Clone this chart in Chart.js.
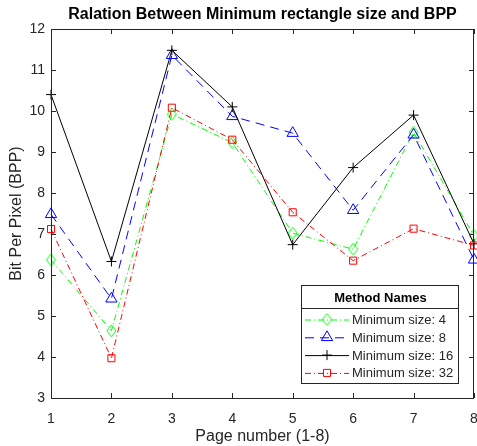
<!DOCTYPE html>
<html>
<head>
<meta charset="utf-8">
<script src="https://cdn.jsdelivr.net/npm/chart.js@4"></script>
<style>
  html, body { margin: 0; padding: 0; background: #fff; }
  #wrap { width: 477px; height: 446px; }
</style>
</head>
<body>
<div id="wrap"><canvas id="bpp-chart" width="477" height="446"></canvas></div>
<script>
    // page numbers on the x axis
    const pages = ["1", "2", "3", "4", "5", "6", "7", "8"];

    // bits per pixel for each minimum rectangle size
    const size4 = [6.37, 4.64, 9.92, 9.23, 7.02, 6.63, 9.48, 6.96];
    const size8 = [7.48, 5.42, 11.36, 9.87, 9.46, 7.58, 9.42, 6.37];
    const size16 = [10.4, 6.33, 11.48, 10.1, 6.74, 8.62, 9.9, 6.76];
    const size32 = [7.12, 3.97, 10.08, 9.3, 7.53, 6.35, 7.13, 6.72];

    const seriesNames = ["Minimum size: 4", "Minimum size: 8", "Minimum size: 16", "Minimum size: 32"];
    const yTicks = [3, 4, 5, 6, 7, 8, 9, 10, 11, 12];
    const titleText = "Ralation Between Minimum rectangle size and BPP";

    const FONT = "'Liberation Sans', Arial, sans-serif";
    const AXIS = "#262626";

    // matlab diamonds are a bit taller than wide, so build a small image for it
    function diamondImage(color) {
        const c = document.createElement("canvas");
        c.width = 11;
        c.height = 14;
        const g = c.getContext("2d");
        g.strokeStyle = color;
        g.lineWidth = 1;
        g.beginPath();
        g.moveTo(5.5, 1);
        g.lineTo(10, 7);
        g.lineTo(5.5, 13);
        g.lineTo(1, 7);
        g.closePath();
        g.stroke();
        return c;
    }

    // title centred over the plot area (not the whole canvas)
    const titlePlugin = {
        id: "plotTitle",
        afterDraw(chart) {
            const { ctx, chartArea: a } = chart;
            ctx.save();
            ctx.fillStyle = "#000";
            ctx.font = "bold 16px " + FONT;
            ctx.textAlign = "center";
            ctx.textBaseline = "middle";
            ctx.fillText(titleText, (a.left + a.right) / 2, 15);
            ctx.restore();
        },
    };

    // matlab style box with inward ticks on all four sides
    const boxPlugin = {
        id: "box",
        afterDraw(chart) {
            const { ctx, chartArea: a, scales } = chart;
            const len = 5;
            ctx.save();
            ctx.strokeStyle = AXIS;
            ctx.lineWidth = 1;
            ctx.beginPath();
            ctx.rect(a.left + 0.5, a.top + 0.5, a.right - a.left - 1, a.bottom - a.top);
            pages.forEach((p, i) => {
                const x = Math.round(scales.x.getPixelForValue(i)) + 0.5;
                ctx.moveTo(x, a.bottom);
                ctx.lineTo(x, a.bottom - len);
                ctx.moveTo(x, a.top);
                ctx.lineTo(x, a.top + len);
            });
            yTicks.forEach((v) => {
                const y = Math.round(scales.y.getPixelForValue(v)) + 0.5;
                ctx.moveTo(a.left, y);
                ctx.lineTo(a.left + len, y);
                ctx.moveTo(a.right, y);
                ctx.lineTo(a.right - len, y);
            });
            ctx.stroke();
            ctx.restore();
        },
    };

    function drawMarker(ctx, style, x, y, r) {
        if (style instanceof HTMLCanvasElement) {
            ctx.drawImage(style, x - style.width / 2, y - style.height / 2);
            return;
        }
        ctx.beginPath();
        if (style === "triangle") {
            ctx.moveTo(x, y - r);
            ctx.lineTo(x + r * 0.866, y + r * 0.5);
            ctx.lineTo(x - r * 0.866, y + r * 0.5);
            ctx.closePath();
        } else if (style === "cross") {
            ctx.moveTo(x - r, y);
            ctx.lineTo(x + r, y);
            ctx.moveTo(x, y - r);
            ctx.lineTo(x, y + r);
        } else {
            const s = r * Math.SQRT1_2;
            ctx.rect(x - s, y - s, 2 * s, 2 * s);
        }
        ctx.stroke();
    }

    // legend box with a header, drawn in the lower right of the plot
    const legendPlugin = {
        id: "methodLegend",
        afterDraw(chart) {
            const { ctx, chartArea: a } = chart;
            const w = 157, h = 98;
            const x0 = a.right - 16 - w;
            const y0 = a.bottom - 15 - h;
            ctx.save();
            ctx.fillStyle = "#fff";
            ctx.fillRect(x0, y0, w, h);
            ctx.strokeStyle = AXIS;
            ctx.lineWidth = 1;
            ctx.strokeRect(x0 + 0.5, y0 + 0.5, w, h);
            ctx.beginPath();
            ctx.moveTo(x0, y0 + 23.5);
            ctx.lineTo(x0 + w, y0 + 23.5);
            ctx.stroke();

            ctx.fillStyle = "#000";
            ctx.font = "bold 13px " + FONT;
            ctx.textAlign = "center";
            ctx.textBaseline = "middle";
            ctx.fillText("Method Names", x0 + w / 2 + 1, y0 + 13);

            ctx.font = "13px " + FONT;
            ctx.textAlign = "left";
            chart.data.datasets.forEach((ds, i) => {
                const y = y0 + 34.5 + i * 17.8;
                ctx.strokeStyle = ds.borderColor;
                ctx.lineWidth = 1;
                ctx.setLineDash(ds.borderDash || []);
                ctx.beginPath();
                ctx.moveTo(x0 + 4, y + 0.5);
                ctx.lineTo(x0 + 48, y + 0.5);
                ctx.stroke();
                ctx.setLineDash([]);
                drawMarker(ctx, ds.pointStyle, x0 + 26, y, ds.pointRadius);
                ctx.fillStyle = AXIS;
                ctx.fillText(ds.label, x0 + 51, y + 1);
            });
            ctx.restore();
        },
    };

    function makeSet(label, data, color, dash, style, radius, order) {
        return {
            label: label,
            data: data,
            borderColor: color,
            backgroundColor: "rgba(0,0,0,0)",
            borderWidth: 1,
            borderDash: dash,
            pointStyle: style,
            pointRadius: radius,
            pointBorderColor: color,
            pointBackgroundColor: "rgba(0,0,0,0)",
            pointBorderWidth: 1,
            tension: 0,
            clip: false,
            order: order,
        };
    }

    const context = document.getElementById("bpp-chart");

    const chartData = {
        labels: pages,
        datasets: [
            makeSet(seriesNames[0], size4, "#00ff00", [6, 3, 1, 3], diamondImage("#00ff00"), 6, 3),
            makeSet(seriesNames[1], size8, "#0000ff", [9, 6], "triangle", 6.5, 2),
            makeSet(seriesNames[2], size16, "#000000", [], "cross", 5, 1),
            makeSet(seriesNames[3], size32, "#ff0000", [6, 3, 1, 3], "rect", 5, 0),
        ],
    };

    const config = {
        type: "line",
        data: chartData,
        options: {
            responsive: false,
            animation: false,
            events: [],
            layout: { autoPadding: false, padding: { left: 0, right: 3, top: 29, bottom: 0 } },
            plugins: {
                legend: { display: false },
                tooltip: { enabled: false },
                title: { display: false },
            },
            scales: {
                x: {
                    type: "category",
                    offset: false,
                    grid: { display: false, drawTicks: false },
                    border: { display: false },
                    ticks: {
                        color: AXIS,
                        font: { family: FONT, size: 14 },
                        padding: 13,
                        maxRotation: 0,
                        autoSkip: false,
                    },
                    title: {
                        display: true,
                        text: "Page number (1-8)",
                        color: AXIS,
                        font: { family: FONT, size: 16 },
                        padding: { top: 0, bottom: 0 },
                    },
                    afterFit(s) {
                        s.height = 48;
                        s.paddingLeft = 0;
                        s.paddingRight = 0;
                    },
                },
                y: {
                    min: 3,
                    max: 12,
                    afterBuildTicks(s) {
                        s.ticks = yTicks.map((v) => ({ value: v }));
                    },
                    grid: { display: false, drawTicks: false },
                    border: { display: false },
                    ticks: {
                        color: AXIS,
                        font: { family: FONT, size: 14 },
                        padding: 6,
                    },
                    title: {
                        display: true,
                        text: "Bit Per Pixel (BPP)",
                        color: AXIS,
                        font: { family: FONT, size: 16 },
                        padding: { top: 7, bottom: 0 },
                    },
                    afterFit(s) {
                        s.width = 51;
                    },
                },
            },
        },
        plugins: [boxPlugin, legendPlugin, titlePlugin],
    };

    const myChart = new Chart(context, config);
</script>
</body>
</html>
